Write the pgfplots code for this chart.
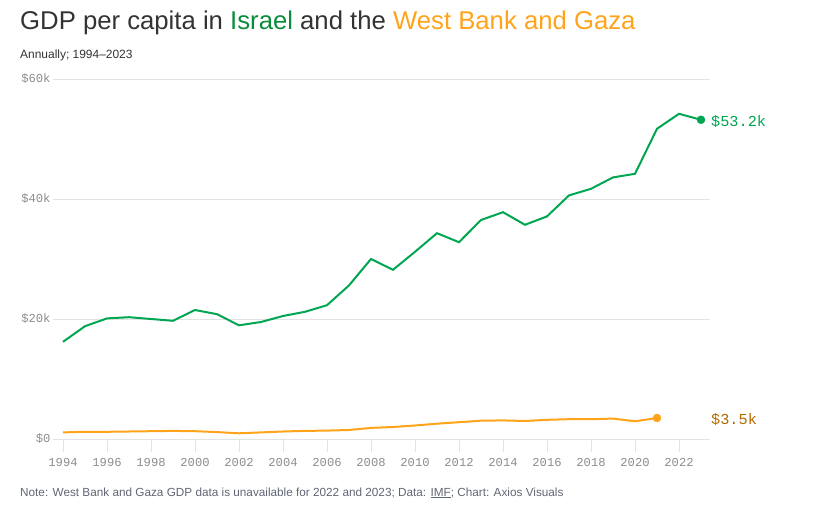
\documentclass[border=0pt]{standalone}
\usepackage{fontspec}
\setmainfont{Liberation Sans}
\setmonofont{Liberation Mono}
\usepackage{pgfplots}
\pgfplotsset{compat=1.18}
\definecolor{isr}{HTML}{00A651}
\definecolor{isrT}{HTML}{0A8C3C}
\definecolor{wbg}{HTML}{FFA31A}
\definecolor{wbgT}{HTML}{B36B00}
\definecolor{gridc}{HTML}{E3E3E3}
\definecolor{tickc}{HTML}{8C8C8C}
\definecolor{titc}{HTML}{333333}
\definecolor{notec}{HTML}{5F6673}
\begin{document}
\begin{tikzpicture}
\useasboundingbox (0,0) rectangle (833bp,514bp);
\node[anchor=base west,inner sep=0pt,text=titc,font=\fontsize{25.8}{30}\selectfont] at (20bp,484bp)
  {GDP per capita in \textcolor{isrT}{Israel} and the \textcolor{wbg}{West Bank and Gaza}};
\node[anchor=base west,inner sep=0pt,text=titc,font=\fontsize{12}{14}\selectfont] at (20bp,455bp)
  {Annually; 1994–2023};
\node[anchor=base west,inner sep=0pt,text=notec,font=\fontsize{11.8}{14}\selectfont] at (20bp,18bp)
  {Note: West Bank and Gaza GDP data is unavailable for 2022 and 2023; Data: \underline{IMF}; Chart: Axios Visuals};
\begin{axis}[
  at={(53bp,75bp)}, anchor=south west,
  scale only axis, width=657bp, height=360bp,
  xmin=1993.545, xmax=2023.41, ymin=0, ymax=60,
  axis x line=bottom, axis y line=left,
  x axis line style={draw=none, -},
  y axis line style={draw=none, -},
  clip=false,
  xtick={1994,1996,...,2022},
  ytick={0,20,40,60},
  yticklabels={\$0,\$20k,\$40k,\$60k},
  xticklabel={\pgfmathprintnumber[1000 sep={}]{\tick}},
  ticklabel style={font=\ttfamily\fontsize{12.2}{14}\selectfont, text=tickc},
  /pgf/number format/assume math mode=true,
  ymajorgrids, grid style={gridc, line width=0.8bp},
  xtick style={gridc, line width=0.8bp},
  tick align=outside,
  major tick length=13bp,
  ytick style={draw=none},
  yticklabel style={xshift=14bp},
  xticklabel style={yshift=-3bp},
]
\addplot[isr, line width=2bp] coordinates {
(1994,16.2)(1995,18.8)(1996,20.1)(1997,20.3)(1998,20.0)(1999,19.7)
(2000,21.5)(2001,20.8)(2002,18.95)(2003,19.5)(2004,20.5)(2005,21.2)
(2006,22.3)(2007,25.6)(2008,30.0)(2009,28.2)(2010,31.2)(2011,34.3)
(2012,32.8)(2013,36.5)(2014,37.8)(2015,35.7)(2016,37.1)(2017,40.6)
(2018,41.7)(2019,43.6)(2020,44.2)(2021,51.7)(2022,54.2)(2023,53.2)};
\addplot[wbg, line width=2bp] coordinates {
(1994,1.1)(1995,1.2)(1996,1.2)(1997,1.25)(1998,1.3)(1999,1.35)
(2000,1.3)(2001,1.15)(2002,0.95)(2003,1.1)(2004,1.25)(2005,1.35)
(2006,1.4)(2007,1.5)(2008,1.85)(2009,2.0)(2010,2.25)(2011,2.55)
(2012,2.8)(2013,3.05)(2014,3.1)(2015,3.0)(2016,3.2)(2017,3.3)
(2018,3.3)(2019,3.4)(2020,2.95)(2021,3.5)};
\addplot[isr, only marks, mark=*, mark size=4bp] coordinates {(2023,53.2)};
\addplot[wbg, only marks, mark=*, mark size=4bp] coordinates {(2021,3.5)};
\node[anchor=west, inner sep=0pt, text=isr, font=\ttfamily\fontsize{15.3}{18}\selectfont, xshift=10bp, yshift=-1.5bp] at (axis cs:2023,53.2) {\$53.2k};
\node[anchor=west, inner sep=0pt, text=wbgT, font=\ttfamily\fontsize{15.3}{18}\selectfont, xshift=10bp, yshift=-1.5bp] at (axis cs:2023,3.5) {\$3.5k};
\end{axis}
\end{tikzpicture}
\end{document}
